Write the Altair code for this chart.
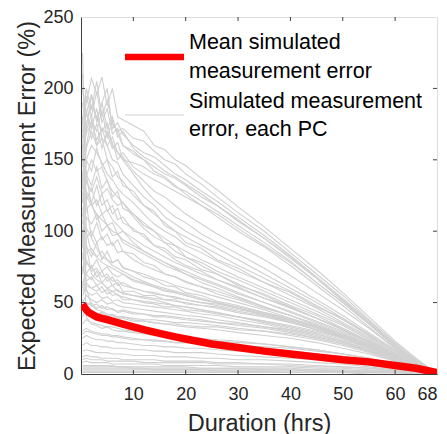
import altair as alt
import pandas as pd

# Shared duration grid (hrs) for the per-PC simulated error traces
duration = [0.3, 1, 2, 3, 4, 5, 6, 7, 8, 10, 12, 14, 16, 18, 20, 23, 26, 30, 35, 40, 45, 50, 55, 60, 64, 68]

pc01 = [165, 190, 207, 196, 208, 188, 200, 180, 178, 174, 170, 160, 157, 150, 146, 137, 129, 117, 103, 88, 73, 57, 40, 23, 11, 0]
pc02 = [178, 200, 185, 205, 180, 192, 175, 170, 172, 165, 163, 156, 150, 147, 140, 133, 124, 113, 100, 85, 70, 55, 38, 22, 10, 0]
pc03 = [150, 172, 195, 178, 190, 200, 172, 176, 168, 160, 155, 152, 146, 140, 136, 128, 121, 110, 97, 83, 68, 53, 37, 21, 9, 0]
pc04 = [140, 160, 178, 170, 185, 165, 178, 168, 160, 154, 150, 145, 140, 137, 132, 124, 118, 108, 95, 81, 67, 51, 36, 20, 9, 0]
pc05 = [190, 170, 182, 160, 172, 168, 158, 162, 150, 148, 145, 140, 137, 131, 128, 121, 114, 104, 92, 79, 64, 50, 35, 19, 8, 0]
pc06 = [160, 185, 165, 175, 158, 170, 162, 150, 155, 145, 140, 136, 132, 128, 124, 118, 110, 100, 89, 76, 62, 48, 33, 18, 8, 0]
pc07 = [145, 175, 188, 180, 170, 176, 160, 155, 150, 140, 130, 122, 116, 110, 106, 98, 92, 84, 74, 63, 52, 41, 29, 17, 8, 0]
pc08 = [170, 182, 172, 186, 165, 160, 150, 148, 140, 132, 124, 118, 110, 105, 100, 94, 88, 80, 70, 60, 50, 39, 28, 16, 7, 0]
pc09 = [130, 158, 170, 160, 165, 150, 145, 138, 135, 125, 118, 112, 106, 100, 96, 90, 84, 76, 67, 58, 48, 38, 27, 16, 7, 0]
pc10 = [120, 150, 160, 155, 148, 140, 136, 130, 126, 120, 112, 105, 100, 96, 90, 85, 79, 72, 64, 55, 46, 36, 26, 15, 7, 0]
pc11 = [110, 138, 150, 142, 145, 135, 128, 124, 120, 112, 106, 100, 95, 90, 86, 80, 75, 68, 60, 52, 44, 35, 25, 14, 6, 0]
pc12 = [100, 125, 118, 122, 112, 115, 108, 104, 100, 95, 90, 86, 82, 78, 75, 70, 66, 60, 53, 46, 39, 32, 23, 14, 6, 0]
pc13 = [90, 110, 105, 112, 100, 104, 97, 98, 92, 88, 84, 80, 76, 73, 70, 66, 62, 56, 50, 44, 37, 30, 22, 13, 6, 0]
pc14 = [80, 95, 100, 92, 96, 90, 92, 85, 86, 80, 76, 73, 70, 68, 65, 61, 58, 53, 47, 41, 35, 28, 21, 13, 6, 0]
pc15 = [70, 85, 88, 82, 86, 80, 78, 80, 75, 72, 70, 67, 65, 62, 60, 57, 54, 50, 45, 39, 33, 27, 20, 12, 5, 0]
pc16 = [60, 78, 74, 80, 72, 75, 70, 68, 70, 65, 63, 61, 58, 57, 55, 52, 50, 46, 42, 37, 31, 26, 19, 12, 5, 0]
pc17 = [55, 62, 60, 58, 61, 56, 58, 55, 54, 52, 51, 50, 49, 48, 47, 45, 43, 40, 37, 33, 29, 24, 18, 11, 5, 0]
pc18 = [65, 58, 55, 57, 53, 54, 51, 52, 50, 49, 48, 47, 46, 45, 44, 42, 41, 38, 35, 31, 27, 22, 17, 10, 5, 0]
pc19 = [50, 55, 52, 50, 52, 49, 50, 48, 47, 46, 45, 44, 43, 42, 41, 40, 38, 36, 33, 30, 26, 22, 16, 10, 4, 0]
pc20 = [45, 50, 48, 49, 46, 47, 45, 44, 45, 43, 42, 41, 41, 40, 39, 38, 36, 34, 32, 29, 25, 21, 16, 10, 4, 0]
pc21 = [40, 46, 44, 42, 43, 41, 42, 40, 40, 39, 38, 38, 37, 36, 36, 35, 34, 32, 30, 27, 24, 20, 15, 9, 4, 0]
pc22 = [225, 120, 95, 88, 82, 80, 76, 74, 72, 68, 65, 62, 60, 58, 56, 53, 50, 46, 41, 36, 31, 25, 19, 11, 5, 0]
pc23 = [180, 90, 70, 66, 64, 60, 62, 58, 57, 55, 53, 52, 50, 48, 47, 45, 43, 40, 36, 32, 28, 23, 17, 10, 5, 0]
pc24 = [140, 60, 48, 45, 44, 42, 41, 40, 40, 38, 37, 36, 35, 34, 33, 32, 31, 29, 27, 25, 22, 18, 14, 9, 4, 0]
pc25 = [100, 40, 35, 34, 32, 33, 31, 30, 30, 29, 28, 27, 27, 26, 25, 24, 23, 22, 21, 19, 17, 14, 11, 7, 3, 0]
pc26 = [35, 38, 36, 35, 34, 33, 33, 32, 31, 30, 29, 28, 27, 27, 26, 25, 24, 23, 21, 19, 17, 14, 11, 7, 3, 0]
pc27 = [30, 32, 30, 29, 28, 28, 27, 27, 26, 25, 24, 24, 23, 22, 22, 21, 20, 19, 18, 16, 14, 12, 9, 6, 3, 0]
pc28 = [25, 27, 25, 24, 24, 23, 23, 22, 22, 21, 20, 20, 19, 19, 18, 18, 17, 16, 15, 14, 12, 10, 8, 5, 2, 0]
pc29 = [20, 22, 20, 20, 19, 19, 18, 18, 18, 17, 17, 16, 16, 15, 15, 15, 14, 13, 12, 11, 10, 8, 6, 4, 2, 0]
pc30 = [16, 17, 16, 15, 15, 15, 14, 14, 14, 13, 13, 13, 12, 12, 12, 11, 11, 10, 10, 9, 8, 7, 5, 3, 2, 0]
pc31 = [12, 13, 12, 12, 11, 11, 11, 11, 10, 10, 10, 10, 9, 9, 9, 9, 8, 8, 7, 7, 6, 5, 4, 3, 1, 0]
pc32 = [8, 9, 8, 8, 8, 8, 7, 7, 7, 7, 7, 7, 6, 6, 6, 6, 6, 5, 5, 5, 4, 4, 3, 2, 1, 0]
pc33 = [6, 6, 6, 6, 6, 6, 6, 5, 5, 5, 5, 5, 5, 5, 5, 4, 4, 4, 4, 4, 3, 3, 2, 2, 1, 0]
pc34 = [4, 4, 4, 4, 4, 4, 4, 4, 4, 4, 4, 3, 3, 3, 3, 3, 3, 3, 3, 3, 2, 2, 2, 1, 1, 0]
pc35 = [2, 2, 2, 2, 2, 2, 2, 2, 2, 2, 2, 2, 2, 2, 2, 2, 2, 2, 2, 1, 1, 1, 1, 1, 0, 0]
pc36 = [85, 70, 76, 68, 72, 65, 68, 62, 64, 60, 58, 56, 55, 54, 52, 50, 49, 46, 42, 38, 33, 27, 20, 12, 5, 0]
pc37 = [75, 65, 68, 62, 64, 60, 58, 59, 56, 55, 54, 53, 52, 51, 50, 48, 47, 44, 41, 37, 32, 26, 19, 12, 5, 0]
pc38 = [95, 115, 120, 108, 112, 104, 106, 98, 100, 92, 86, 82, 78, 74, 70, 64, 60, 54, 47, 41, 34, 27, 19, 11, 5, 0]
pc39 = [120, 135, 128, 138, 126, 130, 122, 118, 120, 110, 102, 96, 92, 86, 82, 76, 70, 63, 55, 47, 39, 31, 22, 13, 6, 0]
pc40 = [155, 168, 176, 164, 172, 160, 166, 155, 152, 142, 135, 128, 124, 118, 112, 105, 98, 90, 80, 69, 57, 45, 32, 18, 8, 0]
pc41 = [135, 150, 142, 158, 146, 150, 138, 142, 132, 128, 118, 114, 104, 100, 92, 88, 80, 74, 64, 57, 47, 39, 27, 16, 7, 0]
pc42 = [125, 140, 132, 145, 130, 136, 124, 128, 116, 112, 104, 100, 92, 90, 82, 78, 72, 66, 58, 50, 42, 34, 24, 14, 6, 0]
pc43 = [105, 128, 120, 132, 118, 122, 112, 116, 106, 102, 96, 90, 86, 80, 76, 72, 66, 61, 53, 47, 39, 31, 22, 13, 6, 0]
pc44 = [115, 122, 130, 118, 126, 114, 118, 108, 110, 100, 98, 90, 88, 82, 80, 73, 70, 62, 56, 48, 41, 32, 23, 14, 6, 0]
pc45 = [88, 102, 96, 106, 94, 98, 90, 94, 86, 84, 78, 76, 70, 68, 64, 61, 56, 52, 46, 41, 34, 28, 20, 12, 5, 0]
pc46 = [72, 90, 82, 92, 80, 86, 78, 80, 74, 72, 68, 66, 62, 61, 57, 55, 51, 48, 43, 39, 33, 27, 20, 12, 5, 0]
pc47 = [62, 70, 66, 72, 64, 68, 62, 64, 58, 58, 55, 55, 52, 52, 49, 48, 46, 43, 40, 36, 31, 26, 19, 11, 5, 0]
pc48 = [58, 64, 60, 62, 57, 59, 55, 56, 52, 52, 50, 49, 47, 47, 45, 44, 42, 40, 37, 34, 30, 25, 18, 11, 5, 0]
pc49 = [52, 48, 50, 46, 48, 45, 46, 43, 44, 42, 42, 40, 40, 39, 38, 37, 36, 35, 33, 31, 28, 23, 17, 10, 4, 0]
pc50 = [48, 44, 45, 42, 43, 40, 41, 39, 39, 37, 37, 36, 35, 35, 34, 33, 33, 31, 30, 28, 25, 21, 16, 10, 4, 0]
pc51 = [175, 195, 180, 198, 176, 186, 168, 172, 160, 156, 150, 142, 138, 132, 126, 118, 112, 102, 90, 78, 64, 50, 35, 19, 8, 0]
pc52 = [200, 182, 196, 176, 190, 172, 180, 166, 170, 158, 152, 148, 142, 138, 133, 126, 118, 107, 95, 82, 67, 52, 36, 20, 9, 0]
pc53 = [3, 3, 3, 3, 3, 3, 3, 3, 3, 3, 3, 3, 3, 3, 3, 3, 2, 2, 2, 2, 2, 2, 1, 1, 0, 0]
pc54 = [5, 5, 5, 5, 5, 5, 5, 5, 5, 4, 4, 4, 4, 4, 4, 4, 4, 4, 3, 3, 3, 2, 2, 1, 1, 0]
pc55 = [10, 11, 10, 10, 10, 9, 9, 9, 9, 9, 8, 8, 8, 8, 8, 8, 7, 7, 7, 6, 5, 5, 4, 2, 1, 0]
pc56 = [1, 1, 1, 1, 1, 1, 1, 1, 1, 1, 1, 1, 1, 1, 1, 1, 1, 1, 1, 1, 1, 1, 0, 0, 0, 0]
pc57 = [28, 30, 29, 28, 27, 27, 26, 26, 25, 24, 24, 23, 23, 22, 22, 21, 21, 20, 19, 18, 16, 14, 11, 7, 3, 0]
pc58 = [160, 100, 85, 82, 78, 76, 74, 72, 70, 66, 64, 61, 59, 57, 55, 52, 50, 47, 43, 38, 33, 27, 20, 12, 5, 0]
pc59 = [210, 140, 118, 112, 108, 104, 100, 98, 94, 90, 86, 82, 78, 75, 72, 67, 63, 57, 50, 43, 36, 29, 21, 12, 5, 0]
pc60 = [95, 80, 72, 74, 68, 70, 65, 66, 62, 60, 58, 57, 55, 53, 52, 50, 48, 45, 42, 38, 33, 27, 20, 12, 5, 0]

pc_series = [pc01, pc02, pc03, pc04, pc05, pc06, pc07, pc08, pc09, pc10,
             pc11, pc12, pc13, pc14, pc15, pc16, pc17, pc18, pc19, pc20,
             pc21, pc22, pc23, pc24, pc25, pc26, pc27, pc28, pc29, pc30,
             pc31, pc32, pc33, pc34, pc35, pc36, pc37, pc38, pc39, pc40,
             pc41, pc42, pc43, pc44, pc45, pc46, pc47, pc48, pc49, pc50,
             pc51, pc52, pc53, pc54, pc55, pc56, pc57, pc58, pc59, pc60]

# Mean simulated measurement error
mean_x = [0.3, 0.6, 1, 1.5, 2, 3, 4, 5, 6, 8, 10, 12, 15, 18, 20, 25, 30, 35, 40, 45, 50, 55, 60, 64, 68]
mean_y = [49, 47, 45, 43, 42, 40, 39, 38, 37, 35, 33, 31, 28.5, 26, 24.5, 21, 18.5, 16, 14, 12, 10, 8.5, 6, 4, 1]

x_ticks = [10, 20, 30, 40, 50, 60, 68]
y_ticks = [0, 50, 100, 150, 200, 250]
legend_text = ["Mean simulated", "measurement error", "Simulated measurement", "error, each PC"]

rows = []
for i, s in enumerate(pc_series):
    for xv, yv in zip(duration, s):
        rows.append({"pc": f"PC{i+1}", "x": xv, "y": yv})
gray_df = pd.DataFrame(rows)
mean_df = pd.DataFrame({"x": mean_x, "y": mean_y})

W, H = 356, 357
FONT = "Liberation Sans"
AX = "#404040"
LAB = "#262626"
GRAY = "#d0d0d0"

xscale = alt.Scale(domain=[0, 68], nice=False, zero=False)
yscale = alt.Scale(domain=[0, 250], nice=False)

xaxis = alt.Axis(values=x_ticks, tickSize=0, labelFontSize=18, labelPadding=11,
                 labelColor=LAB, domainColor=AX, grid=False,
                 title="Duration (hrs)", titleFontSize=23.5, titleFontWeight="normal",
                 titleColor=LAB, titleY=56, titleBaseline="alphabetic", labelFlush=True)
yaxis = alt.Axis(values=y_ticks, tickSize=0, labelFontSize=18, labelPadding=8,
                 labelColor=LAB, domainColor=AX, grid=False,
                 title="Expected Measurement Error (%)", titleFontSize=23.5,
                 titleFontWeight="normal", titleColor=LAB, titleX=-47, titleBaseline="alphabetic",
                 labelFlush=False)

gray = alt.Chart(gray_df).mark_line(color=GRAY, strokeWidth=1.1, clip=True).encode(
    x=alt.X("x:Q", scale=xscale, axis=xaxis),
    y=alt.Y("y:Q", scale=yscale, axis=yaxis),
    detail="pc:N",
)

mean = alt.Chart(mean_df).mark_line(color="#ff0000", strokeWidth=7.5, clip=True).encode(
    x=alt.X("x:Q", scale=xscale),
    y=alt.Y("y:Q", scale=yscale),
)

xt = pd.DataFrame({"x": x_ticks[:-1]})
yt = pd.DataFrame({"y": y_ticks[1:-1]})
tick_b = alt.Chart(xt).mark_rule(color=AX, strokeWidth=1).encode(
    x=alt.X("x:Q", scale=xscale), y=alt.value(H), y2=alt.value(H - 4))
tick_t = alt.Chart(xt).mark_rule(color=AX, strokeWidth=1).encode(
    x=alt.X("x:Q", scale=xscale), y=alt.value(0), y2=alt.value(4))
tick_l = alt.Chart(yt).mark_rule(color=AX, strokeWidth=1).encode(
    y=alt.Y("y:Q", scale=yscale), x=alt.value(0), x2=alt.value(4))
tick_r = alt.Chart(yt).mark_rule(color=AX, strokeWidth=1).encode(
    y=alt.Y("y:Q", scale=yscale), x=alt.value(W), x2=alt.value(W - 4))

one = pd.DataFrame({"k": [0]})
leg_red = alt.Chart(one).mark_rule(color="#ff0000", strokeWidth=6.5).encode(
    x=alt.value(44), x2=alt.value(103), y=alt.value(40))
leg_gray = alt.Chart(one).mark_rule(color=GRAY, strokeWidth=1).encode(
    x=alt.value(44), x2=alt.value(103), y=alt.value(98))
leg_y = [26, 55, 85, 113]
leg_texts = [
    alt.Chart(one).mark_text(align="left", baseline="middle", font=FONT, fontSize=21.5,
                             color="#000000").encode(
        x=alt.value(108), y=alt.value(yy), text=alt.value(t))
    for t, yy in zip(legend_text, leg_y)
]

chart = alt.layer(gray, mean, tick_b, tick_t, tick_l, tick_r, leg_red, leg_gray, *leg_texts).properties(
    width=W, height=H,
    autosize=alt.AutoSizeParams(type="none"),
    padding={"left": 73, "top": 9, "right": 2, "bottom": 70},
).configure_view(stroke=AX, strokeWidth=1).configure_axis(
    labelFont=FONT, titleFont=FONT
).configure(background="white")

chart.save("out.html", embed_options={"renderer": "svg", "actions": False})
